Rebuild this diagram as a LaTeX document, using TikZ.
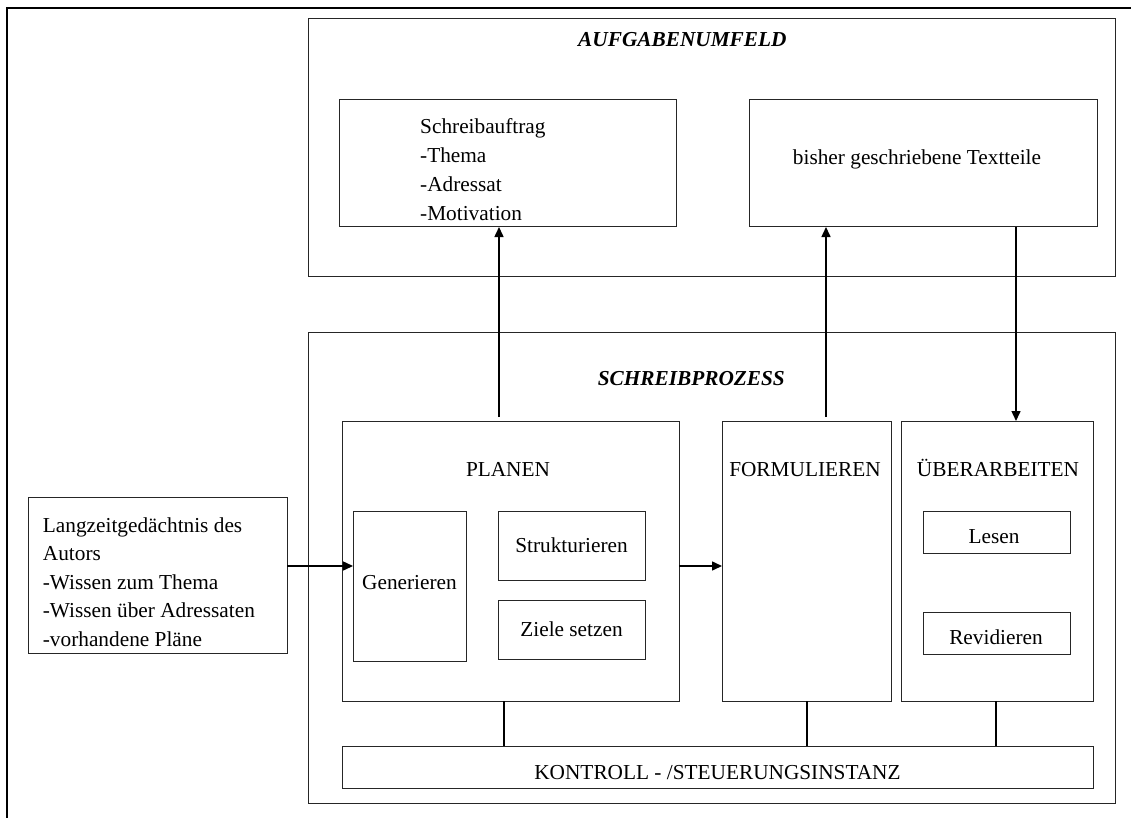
\documentclass[tikz,border=0pt]{standalone}
\usepackage{fontspec}
\setmainfont{Liberation Serif}
\usetikzlibrary{arrows.meta,fit}
\begin{document}
\begin{tikzpicture}[x=1pt,y=-1pt,
  box/.style={draw=black!85,line width=1pt,inner sep=0pt,outer sep=0pt},
  con/.style={draw=black,line width=1.5pt},
  arr/.style={con,-{Triangle[length=10pt,width=9pt]}},
  frame/.style={draw=black,line width=2pt},
  lbl/.style={inner sep=0pt,font=\fontsize{21.3}{28.5}\selectfont},
  head/.style={lbl,font=\fontsize{21.3}{28.5}\selectfont\bfseries\itshape}]
\useasboundingbox (0,0) rectangle (1131,818);

% page frame (top and left edges)
\coordinate (ftr) at (1131,8);
\coordinate (ftl) at (7,8);
\coordinate (fbl) at (7,818);
\draw[frame] (ftr) -- (ftl) -- (fbl);

% outer areas
\node[box,fit={(308,19) (1115,276)}] (auf) {};
\node[box,fit={(308,332) (1115,803)}] (proz) {};
\node[head,anchor=base west] (aufT) at (578,47) {AUFGABENUMFELD};
\node[head,anchor=base east] (prozT) at (785,385) {SCHREIBPROZESS};

% task environment
\node[box,fit={(339,100) (676,227)}] (sa) {};
\node[lbl,align=left,anchor=north west,font=\fontsize{21.3}{29}\selectfont] (saT) at (420,118.5)
  {Schreibauftrag\\-Thema\\-Adressat\\-Motivation};
\node[box,fit={(749,100) (1097,227)}] (bis) {};
\node[lbl,anchor=base] (bisT) at (917,165) {bisher geschriebene Textteile};

% long-term memory
\node[box,fit={(28,497) (287,653)}] (ltm) {};
\node[lbl,align=left,anchor=north west] (ltmT) at (42.7,517.5)
  {Langzeitgedächtnis des\\Autors\\-Wissen zum Thema\\-Wissen über Adressaten\\-vorhandene Pläne};

% writing process
\node[box,fit={(342,421) (679,701)}] (plan) {};
\node[box,fit={(722,421) (891,701)}] (form) {};
\node[box,fit={(901,421) (1093,701)}] (ueb) {};
\node[lbl,anchor=base] (planT) at (508,476) {PLANEN};
\node[lbl,anchor=base] (formT) at (805,476) {FORMULIEREN};
\node[lbl,anchor=base] (uebT) at (998,476) {ÜBERARBEITEN};

\node[box,fit={(353,511) (466,661)}] (gen) {};
\node[box,fit={(498,511) (645,580)}] (str) {};
\node[box,fit={(498,600) (645,659)}] (ziel) {};
\node[lbl,anchor=base] (genT) at (409.5,589) {Generieren};
\node[lbl,anchor=base] (strT) at (571.5,552) {Strukturieren};
\node[lbl,anchor=base] (zielT) at (571.5,636) {Ziele setzen};

\node[box,fit={(923,511) (1070,553)}] (les) {};
\node[box,fit={(923,612) (1070,654)}] (rev) {};
\node[lbl,anchor=base] (lesT) at (994,543) {Lesen};
\node[lbl,anchor=base] (revT) at (996,644) {Revidieren};

\node[box,fit={(342,746) (1093,788)}] (kon) {};
\node[lbl,anchor=base] (konT) at (717.5,779) {KONTROLL - /STEUERUNGSINSTANZ};

% connectors
\coordinate (p1) at (499,417);
\coordinate (f1) at (826,417);
\coordinate (b1) at (1016,227);
\coordinate (l1) at (287,566);
\coordinate (q1) at (679,566);
\coordinate (c1) at (504,701);
\coordinate (c2) at (807,701);
\coordinate (c3) at (996,701);

\draw[arr] (p1) -- (p1 |- sa.south);
\draw[arr] (f1) -- (f1 |- bis.south);
\draw[arr] (b1) -- (b1 |- ueb.north);
\draw[arr] (l1) -- (l1 -| gen.west);
\draw[arr] (q1) -- (q1 -| form.west);
\draw[con] (c1) -- (c1 |- kon.north);
\draw[con] (c2) -- (c2 |- kon.north);
\draw[con] (c3) -- (c3 |- kon.north);
\end{tikzpicture}
\end{document}
